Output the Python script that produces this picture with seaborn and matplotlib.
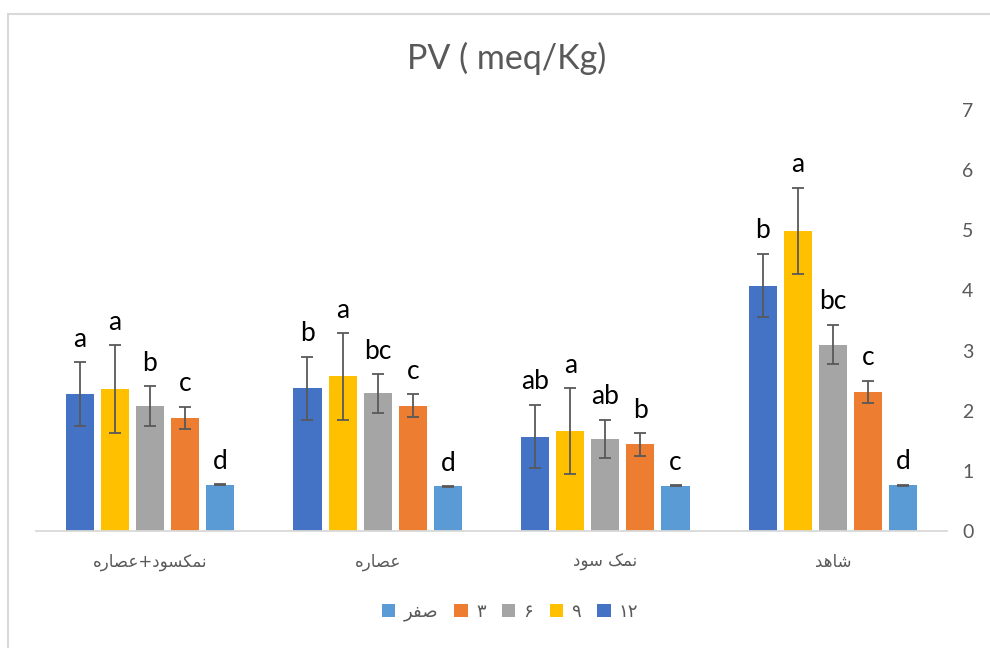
import numpy as np
import pandas as pd
import matplotlib
matplotlib.use("Agg")
import matplotlib.pyplot as plt
import seaborn as sns
from matplotlib.patches import Patch, Rectangle

# ---------------- data ----------------
categories = ["نمکسود+عصاره", "عصاره", "نمک سود", "شاهد"]      # left -> right
series = ["۱۲", "۹", "۶", "۳", "صفر"]                           # left -> right in group
legend_order = ["صفر", "۳", "۶", "۹", "۱۲"]

values = {
    "۱۲":  [2.28, 2.37, 1.57, 4.08],
    "۹":   [2.36, 2.57, 1.66, 4.99],
    "۶":   [2.08, 2.29, 1.53, 3.10],
    "۳":   [1.88, 2.08, 1.44, 2.31],
    "صفر": [0.77, 0.74, 0.75, 0.76],
}
errors = {
    "۱۲":  [0.53, 0.53, 0.53, 0.53],
    "۹":   [0.73, 0.72, 0.72, 0.72],
    "۶":   [0.33, 0.32, 0.32, 0.33],
    "۳":   [0.19, 0.19, 0.19, 0.19],
    "صفر": [0.01, 0.01, 0.01, 0.01],
}
letters = {
    "۱۲":  ["a", "b", "ab", "b"],
    "۹":   ["a", "a", "a", "a"],
    "۶":   ["b", "bc", "ab", "bc"],
    "۳":   ["c", "c", "b", "c"],
    "صفر": ["d", "d", "c", "d"],
}
colors = {"۱۲": "#4472C4", "۹": "#FFC000", "۶": "#A5A5A5", "۳": "#ED7D31", "صفر": "#5B9BD5"}
title = "PV ( meq/Kg)"
yticks = [0, 1, 2, 3, 4, 5, 6, 7]

# ------------- simple Arabic-script shaping + RTL ordering (no external libs) -------------
FORMS = {
    'ا': ('\uFE8D', '\uFE8E', None, None),
    'د': ('\uFEA9', '\uFEAA', None, None),
    'ر': ('\uFEAD', '\uFEAE', None, None),
    'و': ('\uFEED', '\uFEEE', None, None),
    'س': ('\uFEB1', '\uFEB2', '\uFEB3', '\uFEB4'),
    'ش': ('\uFEB5', '\uFEB6', '\uFEB7', '\uFEB8'),
    'ص': ('\uFEB9', '\uFEBA', '\uFEBB', '\uFEBC'),
    'ع': ('\uFEC9', '\uFECA', '\uFECB', '\uFECC'),
    'ف': ('\uFED1', '\uFED2', '\uFED3', '\uFED4'),
    'م': ('\uFEE1', '\uFEE2', '\uFEE3', '\uFEE4'),
    'ن': ('\uFEE5', '\uFEE6', '\uFEE7', '\uFEE8'),
    'ه': ('\uFEE9', '\uFEEA', '\uFEEB', '\uFEEC'),
    'ک': ('\uFB8E', '\uFB8F', '\uFB90', '\uFB91'),
}


def dual(c):
    return c in FORMS and FORMS[c][2] is not None


def shape(s):
    if not any(c in FORMS for c in s):
        return s          # digits only: keep left-to-right
    out = []
    for i, c in enumerate(s):
        if c not in FORMS:
            out.append(c)
            continue
        prev = s[i - 1] if i > 0 else ""
        nxt = s[i + 1] if i + 1 < len(s) else ""
        jp = dual(prev)
        jn = dual(c) and nxt in FORMS
        iso, fin, ini, med = FORMS[c]
        if jp and jn:
            out.append(med)
        elif jp:
            out.append(fin)
        elif jn:
            out.append(ini)
        else:
            out.append(iso)
    return "".join(out)[::-1]


# ---------------- figure ----------------
sns.set_theme(style="white")
plt.rcParams["font.family"] = ["Lato", "DejaVu Sans"]
GRAY = "#595959"

fig = plt.figure(figsize=(9.9, 6.48), dpi=100)
ax = fig.add_axes([36 / 990, 1 - 531 / 648, (947 - 36) / 990, (531 - 110) / 648])

rows = []
for s in series:
    for ci, c in enumerate(categories):
        rows.append({"cat": c, "ser": s, "val": values[s][ci]})
df = pd.DataFrame(rows)

sns.barplot(data=df, x="cat", y="val", hue="ser", order=categories, hue_order=series,
            palette=colors, saturation=1, width=0.77, gap=0.2, errorbar=None,
            linewidth=0, legend=False, ax=ax)

# error bars and letters, positioned from bar patches
for si, s in enumerate(series):
    cont = ax.containers[si]
    for ci, bar in enumerate(cont):
        xc = bar.get_x() + bar.get_width() / 2
        h = bar.get_height()
        e = errors[s][ci]
        ax.errorbar(xc, h, yerr=e, fmt="none", ecolor=GRAY, elinewidth=1.3,
                    capsize=4, capthick=1.3, zorder=5)
        ax.annotate(letters[s][ci], (xc, h + e), xytext=(0, 11), textcoords="offset points",
                    ha="center", va="baseline", fontsize=19, color="black",
                    family=["Lato", "DejaVu Sans"])

ax.set_xlim(-0.5, 3.5)
ax.set_ylim(0, 7)
ax.set_yticks(yticks)
ax.yaxis.tick_right()
ax.tick_params(axis="y", length=0, pad=11, labelsize=14, labelcolor=GRAY)
ax.tick_params(axis="x", length=0, pad=16)
ax.set_xticks(range(len(categories)))
ax.set_xticklabels([shape(c) for c in categories], fontsize=12, color=GRAY,
                   family=["DejaVu Sans"])
ax.set_xlabel("")
ax.set_ylabel("")
for sp in ["top", "left", "right"]:
    ax.spines[sp].set_visible(False)
ax.spines["bottom"].set_color("#D9D9D9")
ax.spines["bottom"].set_linewidth(1.3)
ax.grid(False)

fig.text(507 / 990, 1 - 58 / 648, title, ha="center", va="center", fontsize=24.5,
         color=GRAY, family=["Lato", "DejaVu Sans"])

handles = [Patch(facecolor=colors[s], edgecolor="none") for s in legend_order]
labels = [shape(s) for s in legend_order]
fig.legend(handles, labels, loc="center", bbox_to_anchor=(510 / 990, 1 - 612 / 648),
           ncol=5, frameon=False, labelcolor=GRAY, handlelength=0.75,
           handleheight=0.75, handletextpad=0.45, columnspacing=0.9,
           prop={"family": ["DejaVu Sans"], "size": 13})

# chart border (left/top edges visible in the crop)
fig.add_artist(Rectangle((7.5 / 990, -0.1), 1.2, 1 - 13.5 / 648 + 0.1,
                         transform=fig.transFigure, fill=False,
                         edgecolor="#D9D9D9", linewidth=1.5))

fig.savefig("out.png", dpi=100)
